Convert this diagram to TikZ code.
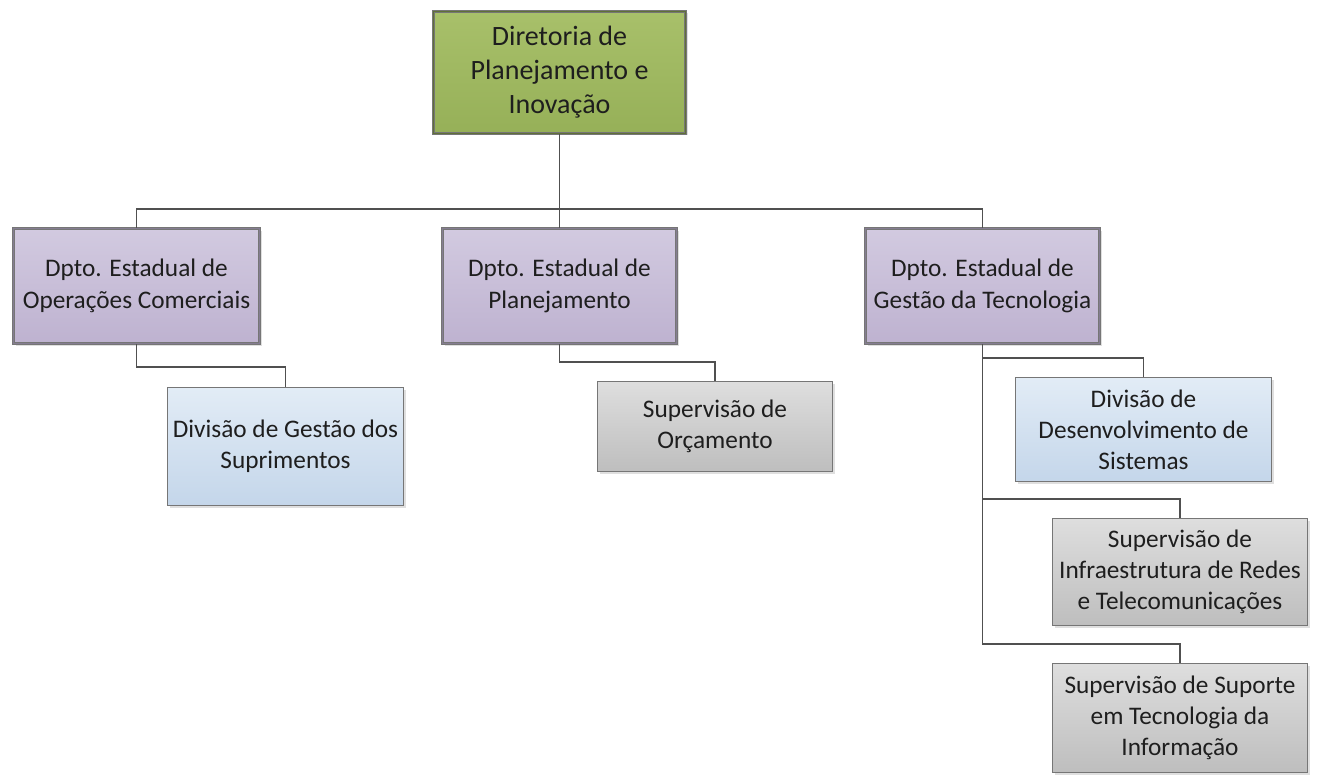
\documentclass[tikz,border=0pt]{standalone}
\usepackage{fontspec}
\setmainfont{Carlito}
\usetikzlibrary{shadows}
\definecolor{oliveT}{RGB}{168,192,106}
\definecolor{oliveB}{RGB}{150,176,88}
\definecolor{oliveD}{RGB}{96,112,56}
\definecolor{purT}{RGB}{210,202,224}
\definecolor{purB}{RGB}{190,178,208}
\definecolor{bluT}{RGB}{226,236,246}
\definecolor{bluB}{RGB}{196,214,234}
\definecolor{gryT}{RGB}{222,222,222}
\definecolor{gryB}{RGB}{190,190,190}
\definecolor{edge}{RGB}{118,118,118}
\definecolor{conn}{RGB}{80,80,80}
\definecolor{txt}{RGB}{30,30,30}
\tikzset{
  box/.style={rectangle, align=center, inner sep=2pt, text=txt,
    draw=edge, drop shadow={opacity=0.25, shadow xshift=2pt, shadow yshift=-2pt}},
  topbox/.style={box, double=oliveD, double distance=0.8pt, line width=1.2pt,
    top color=oliveT, bottom color=oliveB,
    font=\fontsize{28}{34}\selectfont},
  deptbox/.style={box, double=purB!70!black, double distance=0.8pt, line width=1.2pt,
    top color=purT, bottom color=purB,
    font=\fontsize{25.3}{32}\selectfont},
  divbox/.style={box, line width=1.6pt, top color=bluT, bottom color=bluB,
    font=\fontsize{25.3}{31}\selectfont},
  supbox/.style={box, line width=1.6pt, top color=gryT, bottom color=gryB,
    font=\fontsize{25.3}{31}\selectfont},
  link/.style={draw=conn, line width=1.5pt}
}
\begin{document}
\begin{tikzpicture}[x=1pt,y=-1pt]
\useasboundingbox (0,0) rectangle (1322,781);
\fill[white] (0,0) rectangle (1322,781);

\node[topbox, minimum width=252pt, minimum height=122pt] (top) at (559.5,72.5)
  {Diretoria de\\Planejamento e\\Inovação};

\node[deptbox, minimum width=246pt, minimum height=115pt] (A) at (136.5,286)
  {Dpto. Estadual de\\Operações Comerciais};
\node[deptbox, minimum width=234pt, minimum height=115pt] (B) at (559.5,286)
  {Dpto. Estadual de\\Planejamento};
\node[deptbox, minimum width=234pt, minimum height=115pt] (C) at (982.5,286)
  {Dpto. Estadual de\\Gestão da Tecnologia};

\node[divbox, minimum width=236pt, minimum height=118pt] (A1) at (285.5,446.5)
  {Divisão de Gestão dos\\Suprimentos};
\node[supbox, minimum width=235pt, minimum height=90pt] (B1) at (715,426.5)
  {Supervisão de\\Orçamento};
\node[divbox, minimum width=256pt, minimum height=104pt] (C1) at (1143.5,429.5)
  {Divisão de\\Desenvolvimento de\\Sistemas};
\node[supbox, minimum width=255pt, minimum height=107pt] (C2) at (1180,572)
  {Supervisão de\\Infraestrutura de Redes\\e Telecomunicações};
\node[supbox, minimum width=255pt, minimum height=109pt] (C3) at (1180,718)
  {Supervisão de Suporte\\em Tecnologia da\\Informação};

\coordinate (bus) at (559.5,209);
\draw[link] (top.south) -- (bus);
\draw[link] (bus) -| (A.north);
\draw[link] (bus) -- (B.north);
\draw[link] (bus) -| (C.north);

\draw[link] (A.south) -- ++(0,23) -| (A1.north);
\draw[link] (B.south) -- ++(0,18) -| (B1.north);
\draw[link] (C.south) -- ++(0,14) -| (C1.north);
\draw[link] (C.south) -- ++(0,155) -| (C2.north);
\draw[link] (C.south) -- ++(0,300) -| (C3.north);
\end{tikzpicture}
\end{document}
